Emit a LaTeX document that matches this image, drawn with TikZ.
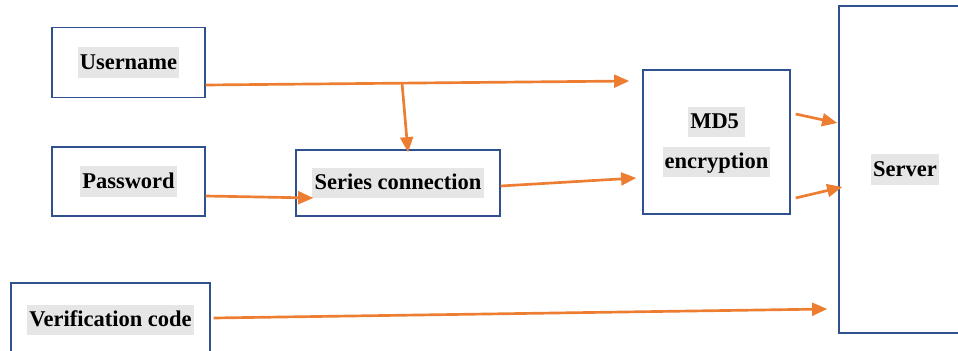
\documentclass[tikz,border=0pt]{standalone}
\usepackage{fontspec}
\setmainfont{Liberation Serif}
\usepackage{tikz}
\usetikzlibrary{arrows.meta,calc}
\definecolor{boxblue}{RGB}{47,82,143}
\definecolor{arroworange}{RGB}{237,125,49}
\definecolor{hlgray}{RGB}{230,230,230}
\newcommand{\hlbox}[1]{{\setlength{\fboxsep}{1.5pt}\colorbox{hlgray}{\rule[-4.5pt]{0pt}{18.5pt}#1}}}
\tikzset{
  blockbox/.style={draw=boxblue,line width=1pt,inner sep=0pt,font=\fontsize{16}{19}\selectfont\bfseries,align=center},
  flowarrow/.style={draw=arroworange,line width=1.9pt,-{Triangle[length=3.8mm,width=3.2mm]}}
}

\begin{document}
\begin{tikzpicture}[scale=1]
\useasboundingbox (0,0) rectangle (23.95,-8.775);
\clip (0,0) rectangle (23.95,-8.775);
%
\node[blockbox,minimum width=3.825cm,minimum height=1.75cm] (user) at (3.2125,-1.5625) {\hlbox{Username}};
\node[blockbox,minimum width=3.825cm,minimum height=1.725cm] (pass) at (3.2125,-4.5375) {\hlbox{Password}};
\node[blockbox,minimum width=5.1cm,minimum height=1.65cm] (series) at (9.95,-4.575) {\hlbox{Series connection}};
\node[blockbox,minimum width=3.675cm,minimum height=3.6cm] (md5) at (17.9125,-3.55) {\hlbox{MD5\,}\\[6pt]\hlbox{encryption}};
\node[blockbox,minimum width=4.975cm,minimum height=1.85cm] (verif) at (2.7625,-8.0) {\hlbox{Verification code}};
\node[blockbox,minimum width=3.3cm,minimum height=8.175cm] (server) at (22.625,-4.2375) {\hlbox{Server}};
%
\coordinate (ustart) at ([yshift=-0.5625cm]user.east);
\coordinate (uend) at ([xshift=-0.325cm,yshift=1.525cm]md5.west);
\coordinate (tap) at ($(ustart)!0.4635!(uend)$);
%
\draw[flowarrow] (ustart) -- (uend);
\draw[flowarrow] (tap) -- ([xshift=0.25cm,yshift=-0.075cm]series.north);
\draw[flowarrow] ([yshift=-0.3625cm]pass.east) -- ([xshift=0.45cm,yshift=-0.375cm]series.west);
\draw[flowarrow] ([yshift=-0.075cm]series.east) -- ([xshift=-0.15cm,yshift=-0.9cm]md5.west);
%
\draw[flowarrow] ([xshift=0.125cm,yshift=0.7cm]md5.east) -- ([xshift=-0.025cm,yshift=1.1625cm]server.west);
\draw[flowarrow] ([xshift=0.125cm,yshift=-1.4cm]md5.east) -- ([xshift=0.1cm,yshift=-0.4375cm]server.west);
\draw[flowarrow] ([xshift=0.075cm,yshift=0.05cm]verif.east) -- ([xshift=-0.275cm,yshift=-3.4875cm]server.west);
\end{tikzpicture}
\end{document}
